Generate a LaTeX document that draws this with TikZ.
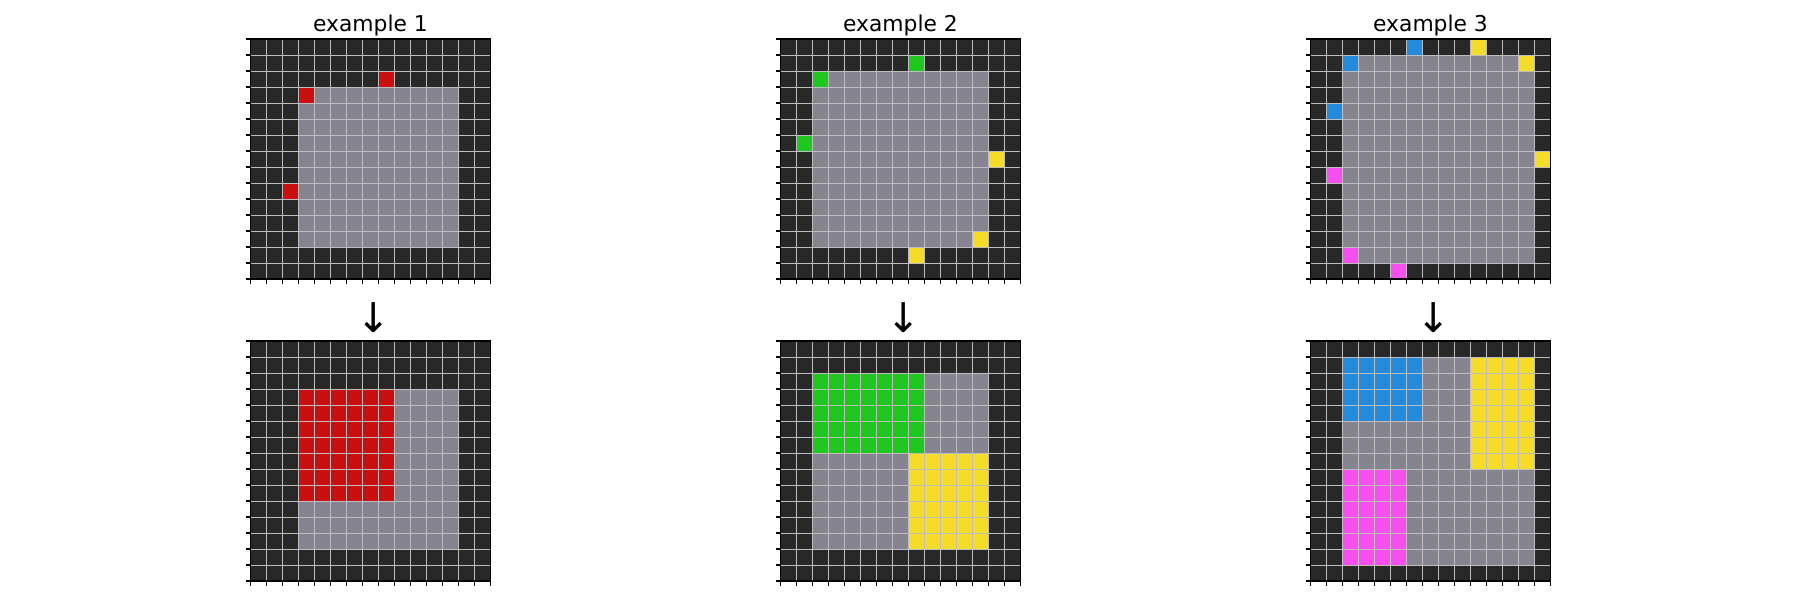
\documentclass[tikz,border=0pt]{standalone}
\usepackage{fontspec}
\usepackage{tikz}
\usetikzlibrary{positioning}
\newfontfamily\dejavu{DejaVu Sans}
\definecolor{cellbg}{RGB}{40,40,40}
\definecolor{cellgray}{RGB}{135,132,145}
\definecolor{cellred}{RGB}{200,16,16}
\definecolor{cellgreen}{RGB}{30,200,30}
\definecolor{cellyellow}{RGB}{245,220,40}
\definecolor{cellblue}{RGB}{36,138,219}
\definecolor{cellpink}{RGB}{248,80,240}
\definecolor{gridline}{RGB}{190,190,190}

% one 15x15 board: #1 = top-left corner, #2 = blocks r1/c1/r2/c2/colour
\newcommand{\drawboard}[2]{%
  \begin{scope}[shift={#1}]
    \fill[cellbg] (0,0) rectangle (240,240);
    \foreach \ra/\ca/\rb/\cb/\col in {#2}
      \fill[fill=\col] (16*\ca,16*\ra) rectangle (16*\cb+16,16*\rb+16);
    \foreach \k in {1,...,14} {
      \draw[gridlines] (16*\k,0) -- (16*\k,240);
      \draw[gridlines] (0,16*\k) -- (240,16*\k);
    }
    \foreach \k in {0,...,15} {
      \draw[tick] (-5,16*\k) -- (0,16*\k);
      \draw[tick] (16*\k,240) -- (16*\k,245);
    }
    \draw[frame] (0,0) rectangle (240,240);
  \end{scope}}

\begin{document}
\begin{tikzpicture}[
  x=1pt,y=-1pt,
  title/.style={font=\dejavu\fontsize{21.8}{26}\selectfont,anchor=base,inner sep=0pt},
  downarrow/.style={font=\dejavu\fontsize{41}{45}\selectfont,anchor=base,inner sep=0pt},
  gridlines/.style={draw=gridline,line width=1pt},
  tick/.style={draw=black,line width=1.2pt},
  frame/.style={draw=black,line width=1.3pt},
]
\useasboundingbox (0,0) rectangle (1800,600);

% titles
\node[title] (title1) at (370.5,31) {example 1};
\node[title] (title2) at (900.5,31) {example 2};
\node[title] (title3) at (1430.5,31) {example 3};

% arrows
\node[downarrow] (arrow1) at (374,332) {↓};
\node[downarrow] (arrow2) at (904,332) {↓};
\node[downarrow] (arrow3) at (1434,332) {↓};

% example 1
\drawboard{(250.5,39)}{3/3/12/12/cellgray, 2/8/2/8/cellred, 3/3/3/3/cellred, 9/2/9/2/cellred}
\drawboard{(250.5,341)}{3/3/12/12/cellgray, 3/3/9/8/cellred}

% example 2
\drawboard{(780.5,39)}{2/2/12/12/cellgray, 1/8/1/8/cellgreen, 2/2/2/2/cellgreen, 6/1/6/1/cellgreen,
  7/13/7/13/cellyellow, 12/12/12/12/cellyellow, 13/8/13/8/cellyellow}
\drawboard{(780.5,341)}{2/2/12/12/cellgray, 2/2/6/8/cellgreen, 7/8/12/12/cellyellow}

% example 3
\drawboard{(1310.5,39)}{1/2/13/13/cellgray, 0/6/0/6/cellblue, 1/2/1/2/cellblue, 4/1/4/1/cellblue,
  0/10/0/10/cellyellow, 1/13/1/13/cellyellow, 7/14/7/14/cellyellow,
  8/1/8/1/cellpink, 13/2/13/2/cellpink, 14/5/14/5/cellpink}
\drawboard{(1310.5,341)}{1/2/13/13/cellgray, 1/2/4/6/cellblue, 1/10/7/13/cellyellow, 8/2/13/5/cellpink}

\end{tikzpicture}
\end{document}
